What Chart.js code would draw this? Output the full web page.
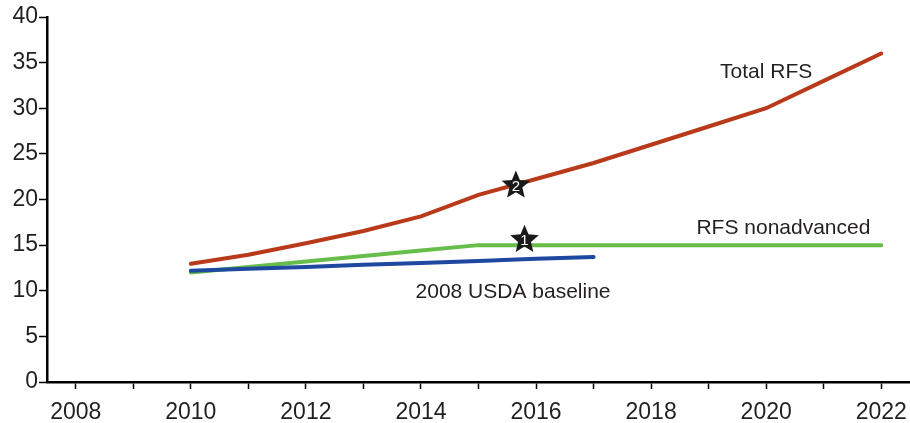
<!DOCTYPE html>
<html>
<head>
<meta charset="utf-8">
<script src="https://cdn.jsdelivr.net/npm/chart.js@4.4.1/dist/chart.umd.min.js"></script>
<style>
  html, body { margin: 0; padding: 0; background: #ffffff; }
  #wrap { width: 910px; height: 423px; position: relative; }
</style>
</head>
<body>
<div id="wrap"><canvas id="c" width="910" height="423"></canvas></div>
<script>
// ---- data ----
const years = [2010, 2011, 2012, 2013, 2014, 2015, 2016, 2017, 2018, 2019, 2020, 2021, 2022];
const totalRFS = [12.95, 13.95, 15.2, 16.55, 18.15, 20.5, 22.25, 24.0, 26.0, 28.0, 30.0, 33.0, 36.0];
const rfsNonadvanced = [12.0, 12.6, 13.2, 13.8, 14.4, 15.0, 15.0, 15.0, 15.0, 15.0, 15.0, 15.0, 15.0];
const usdaYears = [2010, 2011, 2012, 2013, 2014, 2015, 2016, 2017];
const usdaBaseline = [12.2, 12.4, 12.6, 12.85, 13.05, 13.25, 13.5, 13.7];
const starYears = [2015.8, 2015.65];
const starValues = [15.75, 21.7];
const starLabels = ['1', '2'];
const seriesLabels = ['Total RFS', 'RFS nonadvanced', '2008 USDA baseline'];
const labelYears = [2020.0, 2020.3, 2015.6];
const labelValues = [34.0, 16.9, 9.85];
const yTicks = [0, 5, 10, 15, 20, 25, 30, 35, 40];

const toPts = (xs, ys) => xs.map((x, i) => ({ x: x, y: ys[i] }));

const TEXT = '#231f20';
const FONT = '"Liberation Sans", Arial, Helvetica, sans-serif';

const annotate = {
  id: 'annotate',
  afterDatasetsDraw(chart) {
    const ctx = chart.ctx, xs = chart.scales.x, ys = chart.scales.y;
    ctx.save();
    // series labels
    ctx.fillStyle = TEXT;
    ctx.font = '21px ' + FONT;
    ctx.textAlign = 'center';
    ctx.textBaseline = 'middle';
    seriesLabels.forEach((t, i) => {
      ctx.fillText(t, xs.getPixelForValue(labelYears[i]), ys.getPixelForValue(labelValues[i]));
    });
    // stars
    starYears.forEach((yr, i) => {
      const cx = xs.getPixelForValue(yr), cy = ys.getPixelForValue(starValues[i]);
      const R = 15, r = 6.8;
      ctx.beginPath();
      for (let k = 0; k < 10; k++) {
        const rad = k % 2 === 0 ? R : r;
        const a = -Math.PI / 2 + k * Math.PI / 5;
        const px = cx + rad * Math.cos(a), py = cy + 1.5 + rad * Math.sin(a);
        if (k === 0) ctx.moveTo(px, py); else ctx.lineTo(px, py);
      }
      ctx.closePath();
      ctx.fillStyle = '#1a1a1a';
      ctx.fill();
      ctx.fillStyle = '#ffffff';
      ctx.font = '15px ' + FONT;
      ctx.fillText(starLabels[i], cx, cy + 3);
    });
    ctx.restore();
  }
};

new Chart(document.getElementById('c'), {
  type: 'line',
  data: {
    datasets: [
      { label: seriesLabels[2], data: toPts(usdaYears, usdaBaseline), borderColor: '#1f48a0', borderWidth: 4, pointRadius: 0, tension: 0, borderCapStyle: 'round' },
      { label: seriesLabels[1], data: toPts(years, rfsNonadvanced), borderColor: '#66bd4a', borderWidth: 4, pointRadius: 0, tension: 0, borderCapStyle: 'round' },
      { label: seriesLabels[0], data: toPts(years, totalRFS), borderColor: '#b83a1b', borderWidth: 4, pointRadius: 0, tension: 0, borderCapStyle: 'round' }
    ]
  },
  options: {
    responsive: false,
    animation: false,
    devicePixelRatio: 1,
    layout: { padding: { top: 17, right: 0, left: 0, bottom: 0 } },
    plugins: { legend: { display: false }, tooltip: { enabled: false } },
    scales: {
      x: {
        type: 'linear',
        min: 2007.5,
        max: 2022.5,
        afterBuildTicks(scale) {
          const t = [];
          for (let v = 2008; v <= 2022; v++) t.push({ value: v });
          scale.ticks = t;
        },
        afterFit(scale) { scale.height = 41; scale.paddingLeft = 0; scale.paddingRight = 0; },
        grid: { drawOnChartArea: false, drawTicks: true, tickLength: 7, tickWidth: 1.5, tickColor: '#000' },
        border: { display: true, color: '#000', width: 2.5 },
        ticks: {
          autoSkip: false,
          maxRotation: 0,
          padding: 10,
          color: TEXT,
          font: { family: FONT, size: 23 },
          callback: (v) => (v % 2 === 0 ? String(v) : '')
        }
      },
      y: {
        min: 0,
        max: 40,
        afterBuildTicks(scale) { scale.ticks = yTicks.map(v => ({ value: v })); },
        afterFit(scale) { scale.width = 47; scale.paddingTop = 0; scale.paddingBottom = 0; },
        grid: { drawOnChartArea: false, drawTicks: true, tickLength: 8, tickWidth: 1.5, tickColor: '#000' },
        border: { display: true, color: '#000', width: 2.5 },
        ticks: {
          padding: 1,
          color: TEXT,
          font: { family: FONT, size: 23 }
        }
      }
    }
  },
  plugins: [annotate]
});
</script>
</body>
</html>
